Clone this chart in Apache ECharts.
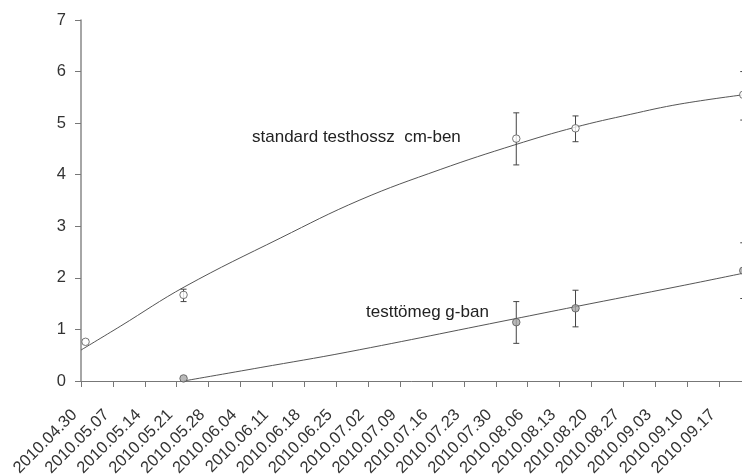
<!DOCTYPE html>
<html>
<head>
<meta charset="utf-8">
<script src="https://cdn.jsdelivr.net/npm/echarts@6/dist/echarts.min.js"></script>
<style>html,body{margin:0;padding:0;background:#fff;overflow:hidden;}#c{width:742px;height:474px;}</style>
</head>
<body>
<div id="c"></div>
<script>
// x values are days after 2010.04.30
var tickLabels = ['2010.04.30','2010.05.07','2010.05.14','2010.05.21','2010.05.28','2010.06.04','2010.06.11','2010.06.18','2010.06.25','2010.07.02','2010.07.09','2010.07.16','2010.07.23','2010.07.30','2010.08.06','2010.08.13','2010.08.20','2010.08.27','2010.09.03','2010.09.10','2010.09.17'];
var yTicks = [0,1,2,3,4,5,6,7];

var lengthDays = [1, 22.5, 95.5, 108.5, 145.3];
var lengthMean = [0.76, 1.67, 4.70, 4.90, 5.55];
var lengthLow  = [null, 1.54, 4.19, 4.64, 5.06];
var lengthHigh = [null, 1.78, 5.20, 5.14, 6.00];

var weightDays = [22.5, 95.5, 108.5, 145.3];
var weightMean = [0.05, 1.14, 1.41, 2.14];
var weightLow  = [null, 0.73, 1.05, 1.60];
var weightHigh = [null, 1.54, 1.76, 2.68];

var lengthCurveDays = [0, 8.6, 22.8, 43.7, 61.2, 78.8, 95.2, 108.4, 120.5, 131.4, 145.3];
var lengthCurveVals = [0.60, 1.06, 1.83, 2.77, 3.51, 4.10, 4.58, 4.92, 5.17, 5.37, 5.55];

var weightCurveDays = [22.5, 39.3, 58.4, 94.8, 108.4, 131.4, 145.3];
var weightCurveVals = [0.0, 0.26, 0.56, 1.20, 1.44, 1.84, 2.09];

var lengthLabel = 'standard testhossz  cm-ben';
var weightLabel = 'testtömeg g-ban';

function zip(a, b) { return a.map(function (v, i) { return [v, b[i]]; }); }
function errData(d, lo, hi) {
  var out = [];
  d.forEach(function (v, i) { if (lo[i] != null) out.push([v, lo[i], hi[i]]); });
  return out;
}
function errRender(params, api) {
  var x = api.value(0);
  var p1 = api.coord([x, api.value(1)]);
  var p2 = api.coord([x, api.value(2)]);
  var w = 3;
  var st = { stroke: '#444', lineWidth: 1, fill: null };
  return {
    type: 'group',
    children: [
      { type: 'line', shape: { x1: p1[0], y1: p1[1], x2: p2[0], y2: p2[1] }, style: st },
      { type: 'line', shape: { x1: p1[0] - w, y1: p1[1], x2: p1[0] + w, y2: p1[1] }, style: st },
      { type: 'line', shape: { x1: p2[0] - w, y1: p2[1], x2: p2[0] + w, y2: p2[1] }, style: st }
    ]
  };
}

var chart = echarts.init(document.getElementById('c'), null, { renderer: 'canvas' });
var axisFont = 'Liberation Sans, Arial, sans-serif';
chart.setOption({
  animation: false,
  backgroundColor: '#ffffff',
  grid: { left: 81, top: 20, width: 670, height: 361, containLabel: false, outerBoundsMode: 'none' },
  xAxis: {
    type: 'value', min: 0, max: 147, interval: 7,
    axisLine: { show: true, lineStyle: { color: '#777', width: 1 } },
    axisTick: { show: true, length: 6, lineStyle: { color: '#777' } },
    splitLine: { show: false },
    axisLabel: {
      rotate: 45, margin: 25, padding: [0, 9, 0, 0], color: '#333', fontSize: 16.5, fontFamily: axisFont,
      showMaxLabel: true, hideOverlap: false,
      formatter: function (v) { var i = Math.round(v / 7); return tickLabels[i] || ''; }
    }
  },
  yAxis: {
    type: 'value', min: 0, max: 7, interval: 1,
    axisLine: { show: true, lineStyle: { color: '#888', width: 1.5 } },
    axisTick: { show: true, length: 6, lineStyle: { color: '#777' } },
    splitLine: { show: false },
    axisLabel: {
      margin: 15, color: '#333', fontSize: 16.5, fontFamily: axisFont,
      formatter: function (v) { return yTicks.indexOf(v) >= 0 ? String(v) : ''; }
    }
  },
  series: [
    { type: 'line', data: zip(lengthCurveDays, lengthCurveVals), smooth: 0.4, showSymbol: false, symbol: 'none',
      lineStyle: { color: '#555', width: 1 }, z: 2 },
    { type: 'line', data: zip(weightCurveDays, weightCurveVals), smooth: 0.4, showSymbol: false, symbol: 'none',
      lineStyle: { color: '#555', width: 1 }, z: 2 },
    { type: 'custom', renderItem: errRender, data: errData(lengthDays, lengthLow, lengthHigh), z: 3 },
    { type: 'custom', renderItem: errRender, data: errData(weightDays, weightLow, weightHigh), z: 3 },
    { type: 'scatter', data: zip(lengthDays, lengthMean), symbol: 'circle', symbolSize: 7.5,
      itemStyle: { color: '#ffffff', borderColor: '#555', borderWidth: 1 }, z: 4 },
    { type: 'scatter', data: zip(weightDays, weightMean), symbol: 'circle', symbolSize: 7.5,
      itemStyle: { color: '#a8a8a8', borderColor: '#555', borderWidth: 1 }, z: 4 }
  ],
  graphic: [
    { type: 'text', left: 252, top: 129, style: { text: lengthLabel, fill: '#222', font: '17px Liberation Sans, Arial, sans-serif' } },
    { type: 'text', left: 366, top: 304, style: { text: weightLabel, fill: '#222', font: '17px Liberation Sans, Arial, sans-serif' } }
  ]
});
</script>
</body>
</html>
